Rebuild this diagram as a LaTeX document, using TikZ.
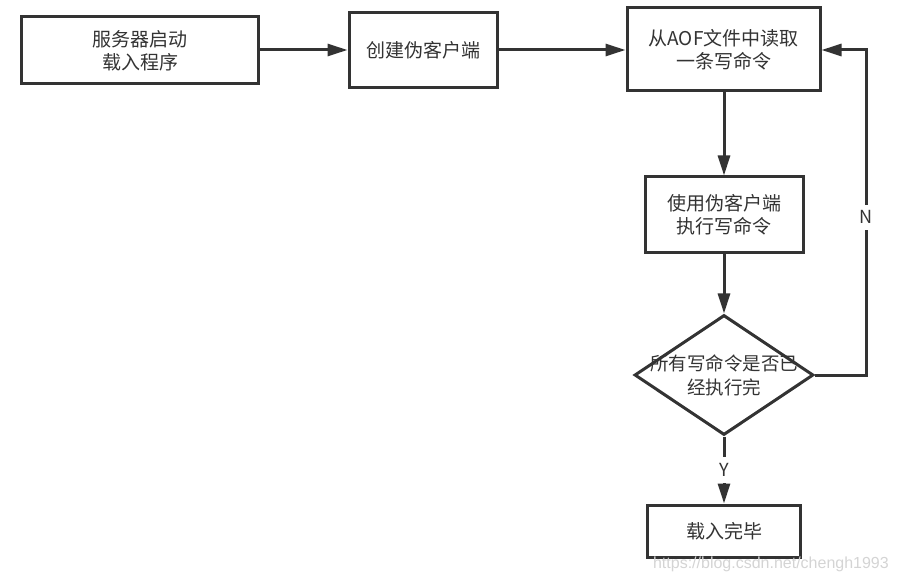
\documentclass[tikz,border=0pt]{standalone}
\usepackage{fontspec}
\setmainfont{Noto Sans CJK SC}
\newfontfamily\wmfont{Liberation Sans}
\usetikzlibrary{shapes.geometric,arrows.meta}
\definecolor{ink}{HTML}{333333}
\definecolor{wm}{HTML}{D4D4D4}
\tikzset{
  stepbox/.style={draw=ink, line width=3bp, fill=white, inner sep=0pt, text=ink, align=center,
    font=\fontsize{19bp}{23bp}\selectfont},
  dia/.style={draw=ink, line width=3bp, shape=diamond, inner sep=0pt, minimum width=179bp, minimum height=120bp, aspect=1.49},
  txt/.style={text=ink, align=center, inner sep=0pt, font=\fontsize{18.5bp}{24bp}\selectfont},
  conn/.style={draw=ink, line width=3bp, -{Triangle[length=20bp,width=12bp]}},
  lbl/.style={fill=white, text=ink, inner xsep=2bp, inner ysep=6bp, font=\fontsize{18bp}{22bp}\selectfont},
}
\begin{document}
\begin{tikzpicture}[x=1bp,y=-1bp]
\useasboundingbox (0,0) rectangle (898,581);
\node[stepbox, minimum width=236bp, minimum height=67bp] (b1) at (140,50.5) {服务器启动\\载入程序};
\node[stepbox, minimum width=148bp, minimum height=75bp] (b2) at (423,50.5) {创建伪客户端};
\node[stepbox, minimum width=193bp, minimum height=83bp] (b3) at (723.5,49.5) {从AOF文件中读取\\一条写命令};
\node[stepbox, minimum width=158bp, minimum height=75bp] (b4) at (724,214.5) {使用伪客户端\\执行写命令};
\node[dia] (d) at (724,375) {};
\node[txt] (dt) at (d.center) {所有写命令是否已\\经执行完};
\node[stepbox, minimum width=153bp, minimum height=52bp] (b5) at (724,531) {载入完毕};
\coordinate (c1) at (866,375);
\coordinate (c2) at (866,50);
\draw[conn] (b1.east |- 0,50) -- (b2.west |- 0,50);
\draw[conn] (b2.east |- 0,50) -- (b3.west |- 0,50);
\draw[conn] (b3.south -| 724,0) -- (b4.north);
\draw[conn] (b4.south) -- (d.north);
\draw[conn] (d.south) -- node[lbl, pos=0.5] (ly) {Y} (b5.north);
\draw[conn] (d.east) -- (c1) -- node[lbl, pos=0.485] (ln) {N} (c2) -- (b3.east |- c2);
\node[text=wm, inner sep=0pt, anchor=east, font=\wmfont\fontsize{16bp}{18bp}\selectfont] (wmark) at (889,564) {https://blog.csdn.net/chengh1993};
\end{tikzpicture}
\end{document}
